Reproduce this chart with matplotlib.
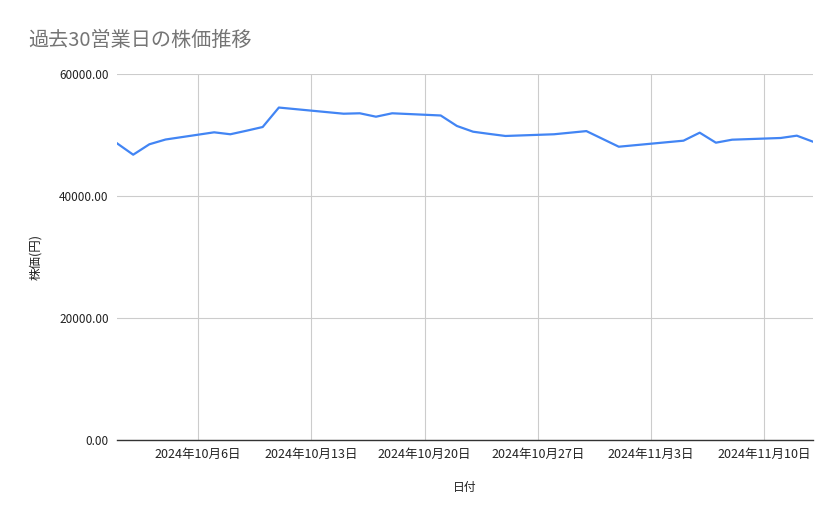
import datetime as dt
import matplotlib
matplotlib.use("Agg")
import matplotlib.pyplot as plt
import matplotlib.dates as mdates
from matplotlib.ticker import FuncFormatter

plt.rcParams['font.family'] = ['Noto Sans CJK JP', 'DejaVu Sans']

# 営業日 (10/14, 11/4 は祝日)
dates = ["2024-10-01", "2024-10-02", "2024-10-03", "2024-10-04",
         "2024-10-07", "2024-10-08", "2024-10-09", "2024-10-10", "2024-10-11",
         "2024-10-15", "2024-10-16", "2024-10-17", "2024-10-18",
         "2024-10-21", "2024-10-22", "2024-10-23", "2024-10-24", "2024-10-25",
         "2024-10-28", "2024-10-29", "2024-10-30", "2024-10-31", "2024-11-01",
         "2024-11-05", "2024-11-06", "2024-11-07", "2024-11-08",
         "2024-11-11", "2024-11-12", "2024-11-13"]
prices = [48640, 46770, 48480, 49260,
          50440, 50120, 50700, 51310, 54500,
          53490, 53560, 53000, 53560,
          53200, 51480, 50540, 50180, 49840,
          50120, 50380, 50640, 49360, 48080,
          49070, 50380, 48740, 49230,
          49510, 49890, 48900]
tick_dates = ["2024-10-06", "2024-10-13", "2024-10-20", "2024-10-27",
              "2024-11-03", "2024-11-10"]
y_ticks = [0, 20000, 40000, 60000]

x = [dt.datetime.strptime(d, "%Y-%m-%d") for d in dates]
xt = [dt.datetime.strptime(d, "%Y-%m-%d") for d in tick_dates]

fig = plt.figure(figsize=(8.39, 5.19), dpi=100)
ax = fig.add_axes([117/839, 1-440/519, (813-117)/839, (440-74)/519])

ax.plot(x, prices, color='#4285F4', linewidth=1.6, solid_joinstyle='round')

ax.set_xlim(x[0], x[-1])
ax.set_ylim(0, 60000)
ax.set_xticks(xt)
ax.xaxis.set_major_formatter(FuncFormatter(
    lambda v, p: "{0}年{1}月{2}日".format(*(lambda d: (d.year, d.month, d.day))(mdates.num2date(v)))))
ax.set_yticks(y_ticks)
ax.yaxis.set_major_formatter(FuncFormatter(lambda v, p: "%.2f" % v))

ax.grid(True, color='#cccccc', linewidth=0.8)
ax.set_axisbelow(True)
for s in ['top', 'right', 'left']:
    ax.spines[s].set_visible(False)
ax.spines['bottom'].set_color('#333333')
ax.spines['bottom'].set_linewidth(1.0)
ax.tick_params(axis='y', length=0, labelsize=8.5, labelcolor='#222222', pad=6)
ax.tick_params(axis='x', length=0, labelsize=9, labelcolor='#222222', pad=6)

ax.set_xlabel("日付", fontsize=8.5, color='#222222', labelpad=14)
ax.set_ylabel("株価(円)", fontsize=9, color='#222222', labelpad=12)

fig.text(28/839, 1-40/519, "過去30営業日の株価推移", fontsize=14.5,
         color='#757575', va='center', ha='left')

fig.savefig("out.png", dpi=100, facecolor='white')
